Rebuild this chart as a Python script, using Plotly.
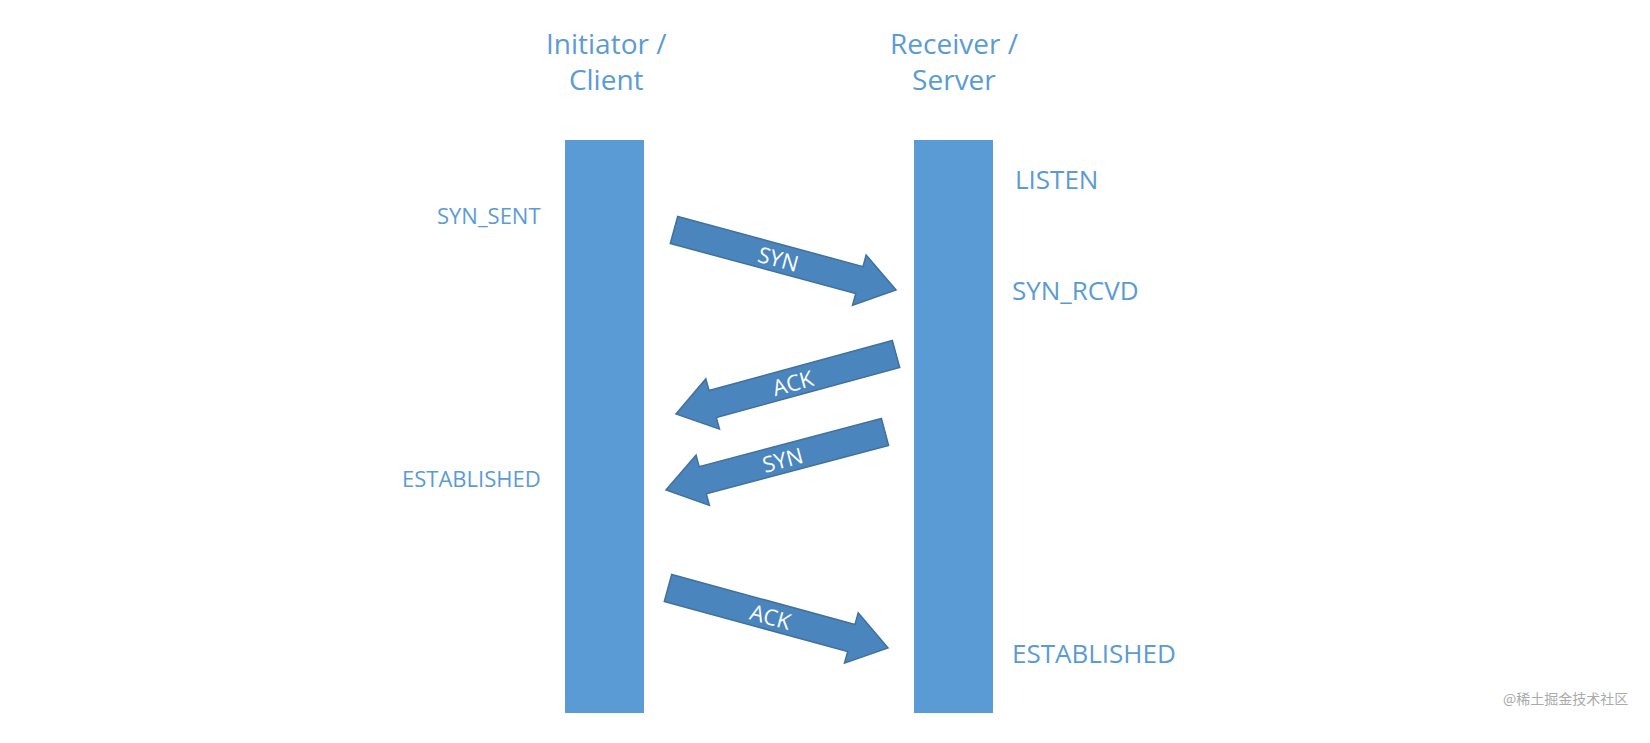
import math
import plotly.graph_objects as go

# Lifeline bars (x-left, x-right, y-top, y-bottom)
bar_x0 = [557, 906]
bar_x1 = [636, 985]
bar_y0 = [132, 132]
bar_y1 = [705, 705]

# Header labels
head_text = ["Initiator /<br>Client", "Receiver /<br>Server"]
head_x = [598, 946]

# State labels
state_text = ["SYN_SENT", "ESTABLISHED", "LISTEN", "SYN_RCVD", "ESTABLISHED"]
state_x = [535, 535, 1005, 1002, 1002]
state_y = [207, 470, 171, 282, 645]
state_anchor = ["right", "right", "left", "left", "left"]
state_size = [22, 22, 26, 26, 26]

# Messages: tail -> tip
msg_text = ["SYN", "ACK", "SYN", "ACK"]
tail_x = [666, 888, 877, 660]
tail_y = [222, 346, 424, 580]
tip_x = [888, 668, 658, 880]
tip_y = [282, 406, 482, 640]

fig = go.Figure()
for a, b, c, d in zip(bar_x0, bar_x1, bar_y0, bar_y1):
    fig.add_shape(type="rect", x0=a, x1=b, y0=c, y1=d, fillcolor="#5B9BD5", line_width=0, layer="below")

SW, HW, HL = 14, 26, 38
for t, x0, y0, x1, y1 in zip(msg_text, tail_x, tail_y, tip_x, tip_y):
    dx, dy = x1 - x0, y1 - y0
    L = math.hypot(dx, dy)
    ux, uy = dx / L, dy / L
    px, py = -uy, ux
    bx, by = x1 - ux * HL, y1 - uy * HL
    pts = [(x0 + px * SW, y0 + py * SW), (bx + px * SW, by + py * SW), (bx + px * HW, by + py * HW),
           (x1, y1), (bx - px * HW, by - py * HW), (bx - px * SW, by - py * SW), (x0 - px * SW, y0 - py * SW)]
    path = "M " + " L ".join(f"{x:.1f},{y:.1f}" for x, y in pts) + " Z"
    fig.add_shape(type="path", path=path, fillcolor="#4A85BD", line=dict(color="#41719C", width=1.5))
    ang = math.degrees(math.atan2(dy, dx))
    if ang > 90:
        ang -= 180
    elif ang < -90:
        ang += 180
    fig.add_annotation(x=(x0 + bx) / 2 + 12 * ux, y=(y0 + by) / 2 + 12 * uy, text=t, showarrow=False,
                       textangle=ang, font=dict(color="white", size=22, family="Open Sans"))

for t, x in zip(head_text, head_x):
    fig.add_annotation(x=x, y=53, text=t, showarrow=False, font=dict(color="#5B9BD5", size=28, family="Open Sans"))

for t, x, y, an, s in zip(state_text, state_x, state_y, state_anchor, state_size):
    fig.add_annotation(x=x, y=y, text=t, showarrow=False, xanchor=an,
                       font=dict(color="#5B9BD5", size=s, family="Open Sans"))

fig.add_annotation(x=1622, y=690, text="@稀土掘金技术社区", showarrow=False, xanchor="right",
                   font=dict(color="#AAAAAA", size=14, family="Noto Sans CJK SC"))

fig.update_xaxes(range=[0, 1650], visible=False)
fig.update_yaxes(range=[743, 0], visible=False)
fig.update_layout(width=1650, height=743, margin=dict(l=0, r=0, t=0, b=0),
                  plot_bgcolor="white", paper_bgcolor="white", showlegend=False)
fig.write_html("out.html")
